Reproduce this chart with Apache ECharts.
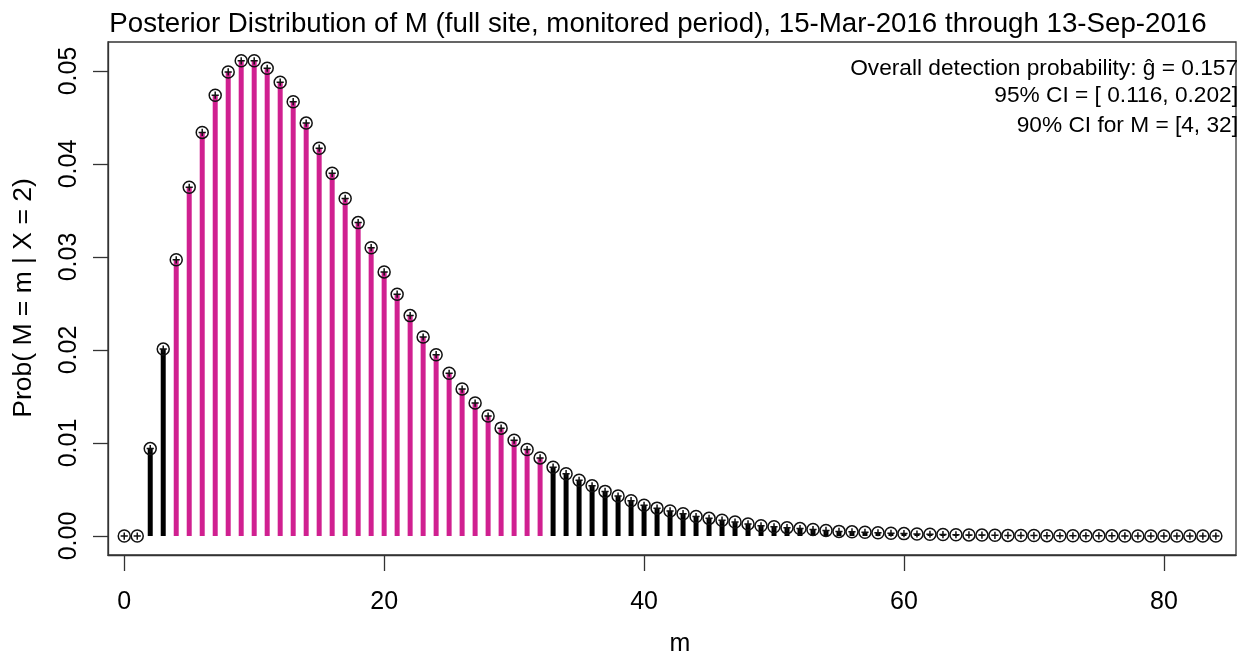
<!DOCTYPE html>
<html>
<head>
<meta charset="utf-8">
<script src="https://cdn.jsdelivr.net/npm/echarts@6/dist/echarts.min.js"></script>
<style>
html,body{margin:0;padding:0;background:#fff;}
#chart{width:1259px;height:656px;}
</style>
</head>
<body>
<div id="chart"></div>
<script>
// ---- data ----
const titleText = 'Posterior Distribution of M (full site, monitored period), 15-Mar-2016 through 13-Sep-2016';
const xAxisTitle = 'm';
const yAxisTitle = 'Prob( M = m | X = 2)';
const annotationLines = [
  'Overall detection probability: \u011D = 0.157',
  '95% CI = [ 0.116, 0.202]',
  '90% CI for M = [4, 32]'
];
const ciLower = 4;
const ciUpper = 32;
const xTicks = [0, 20, 40, 60, 80];
const yTicks = [0, 0.01, 0.02, 0.03, 0.04, 0.05];
// posterior probability for m = 0, 1, 2, ... 84
const probs = [
  0, 0, 0.0094, 0.0201, 0.0297, 0.0375, 0.0434, 0.0474, 0.0499, 0.0511,
  0.0511, 0.0503, 0.0488, 0.0467, 0.0444, 0.0417, 0.0390, 0.0363, 0.0337, 0.0310,
  0.0284, 0.0260, 0.0237, 0.0214, 0.0195, 0.0175, 0.0158, 0.0143, 0.0129, 0.0116,
  0.0103, 0.0093, 0.0084, 0.0074, 0.0067, 0.0060, 0.0054, 0.0048, 0.0043, 0.0038,
  0.0033, 0.0030, 0.0027, 0.0024, 0.0021, 0.0019, 0.0017, 0.0015, 0.0013, 0.0011,
  0.0010, 0.0009, 0.0008, 0.0007, 0.0006, 0.0005, 0.00045, 0.0004, 0.00035, 0.0003,
  0.00026, 0.00022, 0.00019, 0.00016, 0.00014, 0.00012, 0.0001, 0.00008, 0.00007, 0.00006,
  0.00005, 0.00004, 0.00003, 0.00003, 0.00002, 0.00002, 0.00002, 0.00001, 0.00001, 0.00001,
  0.00001, 0, 0, 0, 0
];

// ---- chart ----
const FONT = "'Liberation Sans', Arial, sans-serif";
const MAGENTA = '#D02090';
const points = probs.map((v, m) => [m, v]);

const chart = echarts.init(document.getElementById('chart'), null, {renderer: 'canvas'});
const option = {
  animation: false,
  backgroundColor: '#ffffff',
  title: {
    text: titleText,
    left: 658,
    top: 10,
    textAlign: 'center',
    padding: 0,
    textStyle: {fontFamily: FONT, fontSize: 27.7, fontWeight: 'normal', color: '#000'}
  },
  grid: {
    left: 108, right: 23, top: 42, bottom: 101,
    show: true, borderColor: '#333', borderWidth: 1.3, backgroundColor: 'transparent'
  },
  xAxis: {
    type: 'value',
    min: -1.25, max: 85.55,
    axisLine: {show: true, onZero: false, lineStyle: {color: '#333', width: 1.3}},
    splitLine: {show: false},
    axisTick: {show: true, inside: false, length: 16, customValues: xTicks, lineStyle: {color: '#333', width: 1.3}},
    axisLabel: {show: true, margin: 35, customValues: xTicks, fontFamily: FONT, fontSize: 25, color: '#000'}
  },
  yAxis: {
    type: 'value',
    min: -0.00204, max: 0.05312,
    axisLine: {show: true, onZero: false, lineStyle: {color: '#333', width: 1.3}},
    splitLine: {show: false},
    axisTick: {show: true, inside: false, length: 15, customValues: yTicks, lineStyle: {color: '#333', width: 1.3}},
    axisLabel: {show: true, rotate: 90, margin: 26, customValues: yTicks, fontFamily: FONT, fontSize: 25, color: '#000',
      formatter: v => v.toFixed(2)}
  },
  graphic: [
    {type: 'text', x: 24, y: 298, rotation: Math.PI / 2,
      style: {text: yAxisTitle, fontFamily: FONT, fontSize: 26.5, fill: '#000', align: 'center', verticalAlign: 'middle'}},
    {type: 'text', x: 680, y: 644,
      style: {text: xAxisTitle, fontFamily: FONT, fontSize: 25, fill: '#000', align: 'center', verticalAlign: 'middle'}}
  ].concat(annotationLines.map((t, i) => ({
    type: 'text', x: 1238, y: [69, 96, 126][i],
    style: {text: t, fontFamily: FONT, fontSize: 22.7, fill: '#000', align: 'right', verticalAlign: 'middle'}
  }))),
  series: [
    {
      type: 'bar',
      data: points,
      barWidth: 5,
      itemStyle: {
        color: p => (p.data[0] >= ciLower && p.data[0] <= ciUpper) ? MAGENTA : '#000'
      },
      z: 2
    },
    {
      type: 'scatter',
      data: points,
      symbol: 'path://M0,-10A10,10,0,1,1,0,10A10,10,0,1,1,0,-10ZM-6,0L6,0M0,-6L0,6',
      symbolSize: 12,
      itemStyle: {color: 'rgba(0,0,0,0)', borderColor: '#111', borderWidth: 1.5, opacity: 1},
      z: 3
    }
  ]
};
chart.setOption(option);
</script>
</body>
</html>
